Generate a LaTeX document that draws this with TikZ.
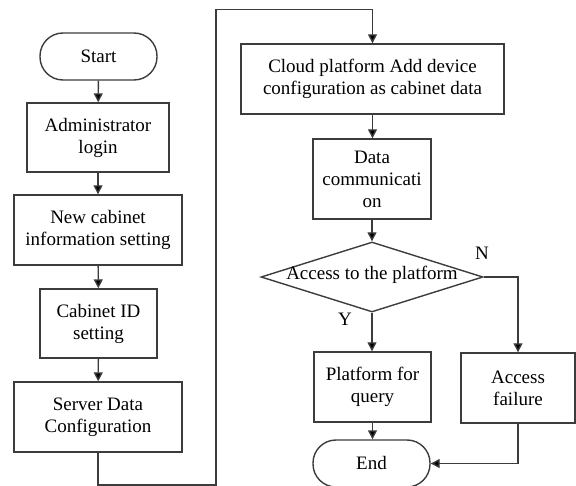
\documentclass[tikz,border=0pt]{standalone}
\usepackage{fontspec}
\setmainfont{Liberation Serif}
\usetikzlibrary{arrows.meta,shapes.geometric}
\definecolor{linegray}{HTML}{3C3C3C}
\begin{document}
\begin{tikzpicture}[x=1pt,y=-1pt,
  every node/.style={font=\fontsize{19}{22}\selectfont, text=black},
  procbox/.style={draw=linegray, line width=1.4pt, rectangle, inner sep=0pt, align=center},
  termbox/.style={draw=linegray, line width=1.4pt, rectangle, rounded corners=23pt, inner sep=0pt,
    minimum width=117pt, minimum height=47pt, align=center},
  decbox/.style={draw=linegray, line width=1.4pt, diamond, inner sep=0pt,
    minimum width=222pt, minimum height=70pt},
  flow/.style={draw=linegray, line width=1.4pt, -{Triangle[length=9pt,width=9pt,fill=black]}},
  plainline/.style={draw=linegray, line width=1.4pt}
]
\useasboundingbox (0,0) rectangle (576,486);

% left column
\node[termbox] (start) at (98.5,56.5) {Start};
\node[procbox, minimum width=142pt, minimum height=69pt] (admin) at (98,137.5) {Administrator\\login};
\node[procbox, minimum width=168pt, minimum height=70pt] (newcab) at (98,230) {New cabinet\\information setting};
\node[procbox, minimum width=117pt, minimum height=69pt] (cabid) at (98.5,323.5) {Cabinet ID\\setting};
\node[procbox, minimum width=168pt, minimum height=70pt] (server) at (98,417) {Server Data\\Configuration};

% right column
\node[procbox, minimum width=263pt, minimum height=70pt] (cloud) at (372.5,79) {Cloud platform Add device\\configuration as cabinet data};
\node[procbox, minimum width=118pt, minimum height=80pt] (comm) at (372,179) {Data\\communicati\\on};
\node[decbox] (dec) at (372,277) {};
\node (dectext) at (372,275) {Access to the platform};
\node[procbox, minimum width=117pt, minimum height=70pt] (query) at (372.5,387) {Platform for\\query};
\node[procbox, minimum width=114pt, minimum height=70pt] (fail) at (518,388) {Access\\failure};
\node[termbox] (end) at (371.5,463.5) {End};

\node (ylab) at (345,319) {Y};
\node (nlab) at (482,253) {N};

% loop from the left column to the right column
\coordinate (c1) at (98,485);
\coordinate (c2) at (216,485);
\coordinate (c3) at (216,9.5);
\coordinate (c4) at (372.5,9.5);

% connectors
\draw[flow] (start) -- (admin);
\draw[flow] (admin) -- (newcab);
\draw[flow] (newcab) -- (cabid);
\draw[flow] (cabid) -- (server);
\draw[plainline] (server.south) -- (c1) -- (c2) -- (c3) -- (c4);
\draw[flow] (c4) -- (cloud.north);
\draw[flow] (cloud.south) -- (cloud.south |- comm.north);
\draw[flow] (comm) -- (dec.north);
\draw[flow] (dec.south) -- (dec.south |- query.north);
\draw[flow] (dec.east) -| (fail.north);
\draw[flow] (query.south) -- (query.south |- end.north);
\draw[flow] (fail.south) |- (end.east);
\end{tikzpicture}
\end{document}
